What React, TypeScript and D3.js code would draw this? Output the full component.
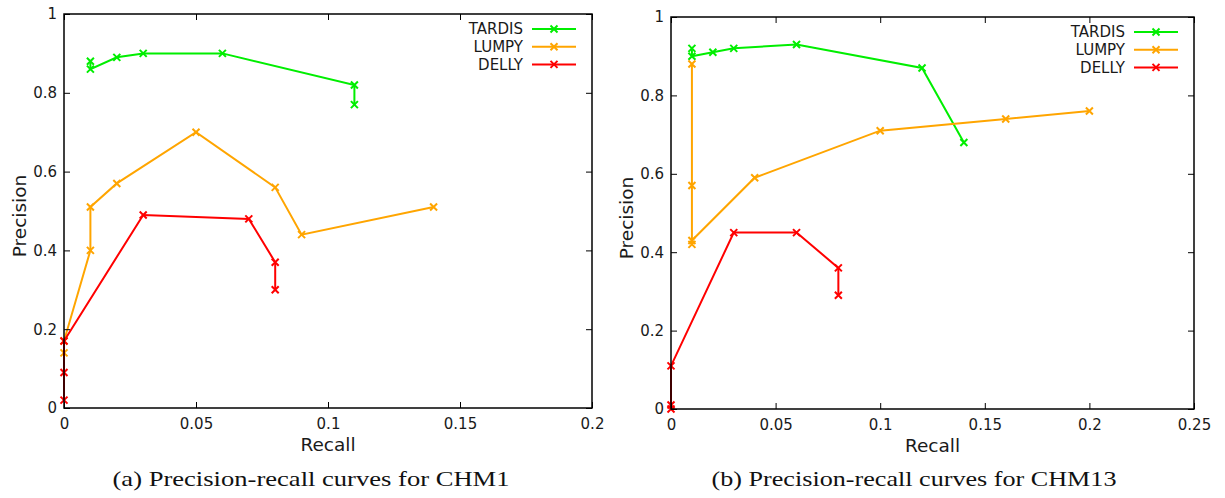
import React, { useEffect, useRef } from "react";
import * as d3 from "d3";

// CHM1 (panel a)
const chm1TardisRecall = [0.01, 0.01, 0.02, 0.03, 0.06, 0.11, 0.11];
const chm1TardisPrecision = [0.88, 0.86, 0.89, 0.9, 0.9, 0.82, 0.77];
const chm1LumpyRecall = [0, 0, 0.01, 0.01, 0.02, 0.05, 0.08, 0.09, 0.14];
const chm1LumpyPrecision = [0.14, 0.17, 0.4, 0.51, 0.57, 0.7, 0.56, 0.44, 0.51];
const chm1DellyRecall = [0, 0, 0, 0.03, 0.07, 0.08, 0.08];
const chm1DellyPrecision = [0.02, 0.09, 0.17, 0.49, 0.48, 0.37, 0.3];

// CHM13 (panel b)
const chm13TardisRecall = [0.01, 0.01, 0.02, 0.03, 0.06, 0.12, 0.14];
const chm13TardisPrecision = [0.92, 0.9, 0.91, 0.92, 0.93, 0.87, 0.68];
const chm13LumpyRecall = [0.01, 0.01, 0.01, 0.01, 0.04, 0.1, 0.16, 0.2];
const chm13LumpyPrecision = [0.88, 0.57, 0.42, 0.43, 0.59, 0.71, 0.74, 0.76];
const chm13DellyRecall = [0, 0, 0, 0.03, 0.06, 0.08, 0.08];
const chm13DellyPrecision = [0, 0.01, 0.11, 0.45, 0.45, 0.36, 0.29];

const seriesNames = ["TARDIS", "LUMPY", "DELLY"];
const seriesColors = ["#00ee00", "#ffa500", "#ff0000"];

const chm1XTicks = [0, 0.05, 0.1, 0.15, 0.2];
const chm13XTicks = [0, 0.05, 0.1, 0.15, 0.2, 0.25];
const yTicks = [0, 0.2, 0.4, 0.6, 0.8, 1];

const zip = (xs: number[], ys: number[]) => xs.map((v, i) => [v, ys[i]] as [number, number]);

const panels = [
  {
    caption: "(a) Precision-recall curves for CHM1",
    captionX: 311,
    captionW: 397,
    xMax: 0.2,
    xTicks: chm1XTicks,
    left: 64, right: 592, top: 14, bottom: 408,
    series: [
      zip(chm1TardisRecall, chm1TardisPrecision),
      zip(chm1LumpyRecall, chm1LumpyPrecision),
      zip(chm1DellyRecall, chm1DellyPrecision),
    ],
  },
  {
    caption: "(b) Precision-recall curves for CHM13",
    captionX: 914,
    captionW: 405,
    xMax: 0.25,
    xTicks: chm13XTicks,
    left: 671, right: 1194, top: 17, bottom: 409,
    series: [
      zip(chm13TardisRecall, chm13TardisPrecision),
      zip(chm13LumpyRecall, chm13LumpyPrecision),
      zip(chm13DellyRecall, chm13DellyPrecision),
    ],
  },
];

const cross = "M-3.5,-3.5L3.5,3.5M-3.5,3.5L3.5,-3.5";
const textColor = "#1a1a1a";

function drawPanel(svg: any, p: any) {
  const x = d3.scaleLinear().domain([0, p.xMax]).range([p.left, p.right]);
  const y = d3.scaleLinear().domain([0, 1]).range([p.bottom, p.top]);
  const fmt = d3.format("~g");

  const g = svg.append("g").style("font-family", "DejaVu Sans, sans-serif");

  // curves
  p.series.forEach((pts: [number, number][], i: number) => {
    const line = d3.line<[number, number]>().x(d => x(d[0])).y(d => y(d[1]));
    g.append("path")
      .datum(pts)
      .attr("fill", "none")
      .attr("stroke", seriesColors[i])
      .attr("stroke-width", 2)
      .attr("d", line);
    g.append("g")
      .selectAll("path")
      .data(pts)
      .join("path")
      .attr("transform", (d: [number, number]) => `translate(${x(d[0])},${y(d[1])})`)
      .attr("d", cross)
      .attr("fill", "none")
      .attr("stroke", seriesColors[i])
      .attr("stroke-width", 2);
  });

  // axes, ticks pointing inward
  const bottom = g.append("g")
    .attr("transform", `translate(0,${p.bottom})`)
    .call(d3.axisBottom(x).tickValues(p.xTicks).tickFormat(fmt).tickSize(-6).tickPadding(10));
  const left = g.append("g")
    .attr("transform", `translate(${p.left},0)`)
    .call(d3.axisLeft(y).tickValues(yTicks).tickFormat(fmt).tickSize(-6).tickPadding(7));
  const top = g.append("g")
    .attr("transform", `translate(0,${p.top})`)
    .call(d3.axisTop(x).tickValues(p.xTicks).tickFormat(() => "").tickSize(-6));
  const right = g.append("g")
    .attr("transform", `translate(${p.right},0)`)
    .call(d3.axisRight(y).tickValues(yTicks).tickFormat(() => "").tickSize(-6));

  [bottom, left, top, right].forEach(a => {
    a.select(".domain").remove();
    a.attr("font-family", null).attr("font-size", null);
    a.selectAll("line").attr("stroke", "#000").attr("stroke-width", 1);
    a.selectAll("text").attr("fill", textColor).style("font-size", "15px");
  });

  g.append("rect")
    .attr("x", p.left)
    .attr("y", p.top)
    .attr("width", p.right - p.left)
    .attr("height", p.bottom - p.top)
    .attr("fill", "none")
    .attr("stroke", "#000")
    .attr("stroke-width", 1.5);

  // axis titles
  g.append("text")
    .attr("x", (p.left + p.right) / 2)
    .attr("y", p.bottom + 43)
    .attr("text-anchor", "middle")
    .attr("fill", textColor)
    .style("font-size", "18.5px")
    .text("Recall");
  g.append("text")
    .attr("transform", `translate(${p.left - 38},${(p.top + p.bottom) / 2 + 5}) rotate(-90)`)
    .attr("text-anchor", "middle")
    .attr("fill", textColor)
    .style("font-size", "18.5px")
    .text("Precision");

  // legend
  const lineEnd = p.right - 16;
  const lineStart = lineEnd - 44;
  seriesNames.forEach((name, i) => {
    const ly = p.top + 15 + i * 17.7;
    g.append("text")
      .attr("x", lineStart - 9)
      .attr("y", ly)
      .attr("dy", "0.36em")
      .attr("text-anchor", "end")
      .attr("fill", textColor)
      .style("font-size", "15px")
      .text(name);
    g.append("line")
      .attr("x1", lineStart).attr("x2", lineEnd)
      .attr("y1", ly).attr("y2", ly)
      .attr("stroke", seriesColors[i])
      .attr("stroke-width", 2);
    g.append("path")
      .attr("transform", `translate(${(lineStart + lineEnd) / 2},${ly})`)
      .attr("d", cross)
      .attr("stroke", seriesColors[i])
      .attr("stroke-width", 2);
  });

  // caption
  svg.append("text")
    .attr("x", p.captionX)
    .attr("y", 486)
    .attr("text-anchor", "middle")
    .attr("textLength", p.captionW)
    .attr("lengthAdjust", "spacingAndGlyphs")
    .attr("fill", "#111")
    .style("font-family", "Liberation Serif, serif")
    .style("font-size", "21px")
    .text(p.caption);
}

export default function App() {
  const ref = useRef<SVGSVGElement>(null);

  useEffect(() => {
    const svg = d3.select(ref.current);
    svg.selectAll("*").remove();
    panels.forEach(p => drawPanel(svg, p));
  }, []);

  return (
    <svg
      ref={ref}
      width={1225}
      height={498}
      style={{ position: "absolute", left: 0, top: 0, background: "#fff" }}
    />
  );
}
